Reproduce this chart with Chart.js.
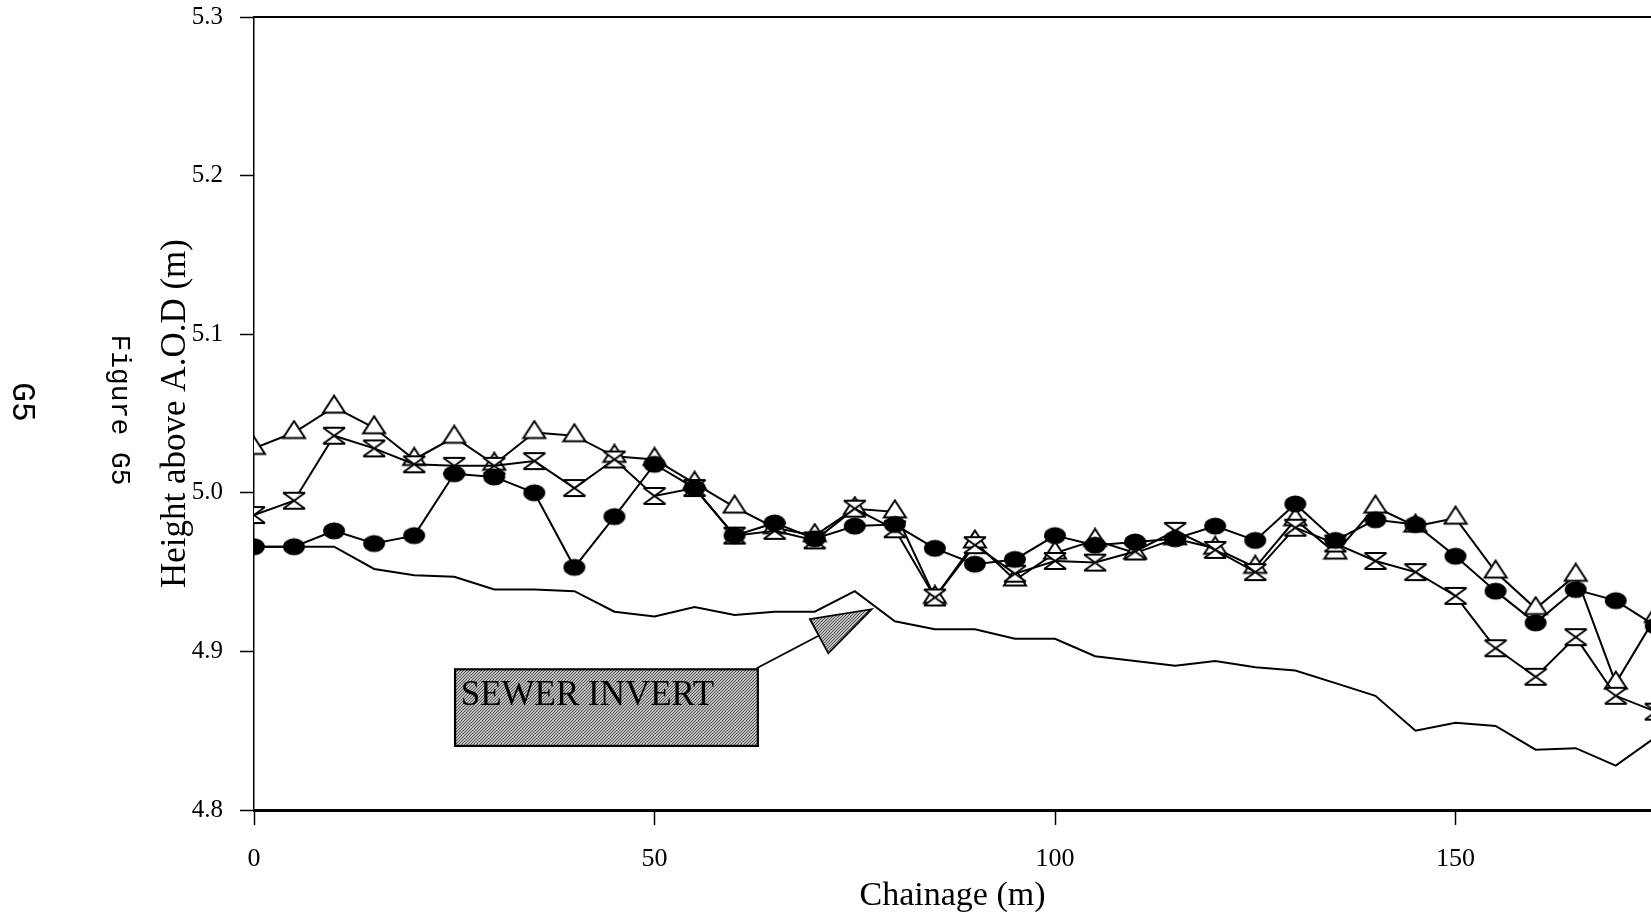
<!DOCTYPE html>
<html>
<head>
<meta charset="utf-8">
<script src="https://cdn.jsdelivr.net/npm/chart.js@4.4.1/dist/chart.umd.min.js"></script>
<style>
  html, body { margin: 0; padding: 0; background: #ffffff; }
  canvas { display: block; }
</style>
</head>
<body>
<canvas id="profile" width="1651" height="916"></canvas>
<script>
// Chainage along the sewer line (m)
const chainage = [0, 5, 10, 15, 20, 25, 30, 35, 40, 45, 50, 55, 60, 65, 70, 75, 80, 85,
  90, 95, 100, 105, 110, 115, 120, 125, 130, 135, 140, 145, 150, 155, 160, 165, 170, 175];

// Surface levels above A.O.D (m), open-triangle survey
const levelsTriangle = [5.028, 5.038, 5.054, 5.041, 5.021, 5.035, 5.018, 5.038, 5.036, 5.023,
  5.021, 5.006, 4.991, 4.978, 4.973, 4.990, 4.988, 4.934, 4.969, 4.945,
  4.962, 4.970, 4.962, 4.971, 4.965, 4.953, 4.983, 4.962, 4.991, 4.979,
  4.984, 4.950, 4.927, 4.948, 4.880, 4.922];

// Surface levels above A.O.D (m), hourglass survey
const levelsHourglass = [4.986, 4.995, 5.036, 5.028, 5.018, 5.017, 5.017, 5.020, 5.003, 5.021,
  4.998, 5.003, 4.973, 4.976, 4.970, 4.990, 4.977, 4.934, 4.967, 4.949,
  4.957, 4.956, 4.963, 4.976, 4.964, 4.950, 4.978, 4.968, 4.957, 4.950,
  4.935, 4.902, 4.884, 4.909, 4.872, 4.862];

// Surface levels above A.O.D (m), filled-circle survey
const levelsCircle = [4.966, 4.966, 4.976, 4.968, 4.973, 5.012, 5.010, 5.000, 4.953, 4.985,
  5.018, 5.003, 4.973, 4.981, 4.971, 4.979, 4.980, 4.965, 4.955, 4.958,
  4.973, 4.967, 4.969, 4.971, 4.979, 4.970, 4.993, 4.970, 4.983, 4.980,
  4.960, 4.938, 4.918, 4.939, 4.932, 4.916];

// Sewer invert level (m)
const sewerInvert = [4.966, 4.966, 4.966, 4.952, 4.948, 4.947, 4.939, 4.939, 4.938, 4.925,
  4.922, 4.928, 4.923, 4.925, 4.925, 4.938, 4.919, 4.914, 4.914, 4.908,
  4.908, 4.897, 4.894, 4.891, 4.894, 4.890, 4.888, 4.880, 4.872, 4.850,
  4.855, 4.853, 4.838, 4.839, 4.828, 4.846];

// Axis tick values
const xTicks = [0, 50, 100, 150];
const yTicks = [4.8, 4.9, 5.0, 5.1, 5.2, 5.3];

// Callout for the invert line, in chainage / level units
const callout = {
  label: 'SEWER INVERT',
  box: { x0: 25.1, x1: 62.9, yTop: 4.8887, yBottom: 4.8404 },
  textAt: { x: 25.8, y: 4.8662 },
  leader: [[62.75, 4.8894], [70.66, 4.9103]],
  head: [[69.4, 4.9203], [77.1, 4.9266], [71.7, 4.8988]]
};

const SERIF = '"Liberation Serif", "Times New Roman", serif';
const MONO = '"Liberation Mono", "DejaVu Sans Mono", monospace';

function series(values) {
  return chainage.map((x, i) => ({ x: x, y: values[i] }));
}

// ---- marker glyphs ----
function markerCircle() {
  const c = document.createElement('canvas');
  c.width = 24; c.height = 20;
  const g = c.getContext('2d');
  g.fillStyle = '#000';
  g.beginPath();
  g.ellipse(12, 10, 11, 8.6, 0, 0, Math.PI * 2);
  g.fill();
  return c;
}

function markerTriangle() {
  const w = 22, h = 17, t0 = 1.5;
  const c = document.createElement('canvas');
  c.width = 26;
  c.height = Math.round(2 * (t0 + 2 * h / 3));
  const g = c.getContext('2d');
  const cx = c.width / 2;
  g.beginPath();
  g.moveTo(cx, t0);
  g.lineTo(cx + w / 2, t0 + h);
  g.lineTo(cx - w / 2, t0 + h);
  g.closePath();
  g.fillStyle = '#fff';
  g.fill();
  g.lineWidth = 2;
  g.strokeStyle = '#000';
  g.lineJoin = 'miter';
  g.stroke();
  return c;
}

function markerHourglass() {
  const c = document.createElement('canvas');
  c.width = 26; c.height = 20;
  const g = c.getContext('2d');
  const l = 2, r = 24, t = 2, b = 18, cx = 13, cy = 10;
  g.fillStyle = '#fff';
  g.beginPath();
  g.moveTo(l, t); g.lineTo(r, t); g.lineTo(cx, cy); g.closePath();
  g.moveTo(l, b); g.lineTo(r, b); g.lineTo(cx, cy); g.closePath();
  g.fill();
  g.strokeStyle = '#000';
  g.lineWidth = 2;
  g.beginPath();
  g.moveTo(l, t); g.lineTo(r, t);
  g.moveTo(l, b); g.lineTo(r, b);
  g.moveTo(l, t); g.lineTo(r, b);
  g.moveTo(r, t); g.lineTo(l, b);
  g.stroke();
  return c;
}

function stipple(ctx) {
  const c = document.createElement('canvas');
  c.width = 3; c.height = 3;
  const g = c.getContext('2d');
  g.fillStyle = '#bdbdbd';
  g.fillRect(0, 0, 3, 3);
  g.fillStyle = '#555555';
  g.fillRect(0, 2, 1, 1);
  g.fillRect(1, 1, 1, 1);
  g.fillRect(2, 0, 1, 1);
  return ctx.createPattern(c, 'repeat');
}

// ---- page furniture and callout ----
const furniture = {
  id: 'furniture',
  beforeDraw(chart) {
    const ctx = chart.ctx;
    ctx.save();
    ctx.fillStyle = '#fff';
    ctx.fillRect(0, 0, chart.width, chart.height);
    ctx.restore();
  },
  afterDatasetsDraw(chart) {
    const ctx = chart.ctx;
    const xs = chart.scales.x, ys = chart.scales.y;
    const X = v => xs.getPixelForValue(v);
    const Y = v => ys.getPixelForValue(v);
    const area = chart.chartArea;

    ctx.save();
    // frame line along the top of the plot
    ctx.strokeStyle = '#000';
    ctx.lineWidth = 2;
    ctx.beginPath();
    ctx.moveTo(area.left, area.top);
    ctx.lineTo(chart.width, area.top);
    ctx.stroke();

    // callout box
    const b = callout.box;
    const bx = X(b.x0), by = Y(b.yTop), bw = X(b.x1) - bx, bh = Y(b.yBottom) - by;
    ctx.fillStyle = stipple(ctx);
    ctx.fillRect(bx, by, bw, bh);
    ctx.lineWidth = 2.2;
    ctx.strokeStyle = '#000';
    ctx.strokeRect(bx, by, bw, bh);
    ctx.fillStyle = '#000';
    ctx.font = '35px ' + SERIF;
    ctx.textAlign = 'left';
    ctx.textBaseline = 'alphabetic';
    ctx.fillText(callout.label, X(callout.textAt.x), Y(callout.textAt.y));

    // leader line and arrow head
    ctx.lineWidth = 1.8;
    ctx.beginPath();
    ctx.moveTo(X(callout.leader[0][0]), Y(callout.leader[0][1]));
    ctx.lineTo(X(callout.leader[1][0]), Y(callout.leader[1][1]));
    ctx.stroke();
    ctx.beginPath();
    callout.head.forEach((p, i) => {
      if (i === 0) ctx.moveTo(X(p[0]), Y(p[1])); else ctx.lineTo(X(p[0]), Y(p[1]));
    });
    ctx.closePath();
    ctx.fillStyle = stipple(ctx);
    ctx.fill();
    ctx.lineWidth = 1.8;
    ctx.stroke();
    ctx.restore();
  },
  afterDraw(chart) {
    const ctx = chart.ctx;
    const side = (text, size, x, y) => {
      ctx.save();
      ctx.fillStyle = '#000';
      ctx.textAlign = 'center';
      ctx.textBaseline = 'middle';
      ctx.font = size + 'px ' + MONO;
      ctx.translate(x, y);
      ctx.rotate(Math.PI / 2);
      ctx.fillText(text, 0, 0);
      ctx.restore();
    };
    side('Figure G5', 28, 119, 410);
    side('G5', 33, 22, 402);
  }
};

function build() {
  const lineStyle = {
    borderColor: '#000',
    backgroundColor: '#000',
    borderWidth: 2,
    tension: 0,
    fill: false,
    pointRadius: 10,
    pointHoverRadius: 10
  };

  new Chart(document.getElementById('profile'), {
    type: 'line',
    data: {
      datasets: [
        Object.assign({}, lineStyle, { label: 'Circle survey', data: series(levelsCircle), pointStyle: markerCircle(), order: 0 }),
        Object.assign({}, lineStyle, { label: 'Hourglass survey', data: series(levelsHourglass), pointStyle: markerHourglass(), order: 1 }),
        Object.assign({}, lineStyle, { label: 'Triangle survey', data: series(levelsTriangle), pointStyle: markerTriangle(), order: 2 }),
        Object.assign({}, lineStyle, { label: 'Sewer invert', data: series(sewerInvert), pointRadius: 0, pointHoverRadius: 0, order: 3 })
      ]
    },
    options: {
      responsive: false,
      animation: false,
      events: [],
      layout: { autoPadding: false, padding: { left: 150, right: 0, top: 0, bottom: 0 } },
      plugins: {
        legend: { display: false },
        tooltip: { enabled: false },
        title: { display: false }
      },
      scales: {
        x: {
          type: 'linear',
          min: 0,
          max: 174.4,
          afterBuildTicks: s => { s.ticks = xTicks.map(v => ({ value: v })); },
          afterFit: s => { s.height = 106; },
          ticks: {
            color: '#000',
            font: { family: SERIF, size: 26 },
            padding: 19,
            maxRotation: 0,
            callback: v => String(v)
          },
          grid: {
            display: true,
            drawOnChartArea: false,
            drawTicks: true,
            tickLength: 15,
            tickColor: '#000',
            tickWidth: 1.5
          },
          border: { display: true, color: '#000', width: 3 },
          title: {
            display: true,
            text: 'Chainage (m)',
            color: '#000',
            font: { family: SERIF, size: 34 },
            padding: { top: 0, bottom: 0 }
          }
        },
        y: {
          type: 'linear',
          min: 4.8,
          max: 5.3,
          afterBuildTicks: s => { s.ticks = yTicks.map(v => ({ value: v })); },
          afterFit: s => { s.width = 104; s.paddingTop = 17; s.paddingBottom = 0; },
          ticks: {
            color: '#000',
            font: { family: SERIF, size: 25 },
            padding: 17,
            callback: v => Number(v).toFixed(1)
          },
          grid: {
            display: true,
            drawOnChartArea: false,
            drawTicks: true,
            tickLength: 14,
            tickColor: '#000',
            tickWidth: 1.5
          },
          border: { display: true, color: '#000', width: 1.5 },
          title: {
            display: true,
            text: 'Height above A.O.D (m)',
            color: '#000',
            font: { family: SERIF, size: 35 },
            padding: { top: 5, bottom: 0 }
          }
        }
      }
    },
    plugins: [furniture]
  });
}

const fontLoads = [
  '25px "Liberation Serif"',
  '35px "Liberation Serif"',
  '28px "Liberation Mono"'
].map(f => document.fonts.load(f).catch(() => null));
Promise.all(fontLoads).then(build, build);
</script>
</body>
</html>
